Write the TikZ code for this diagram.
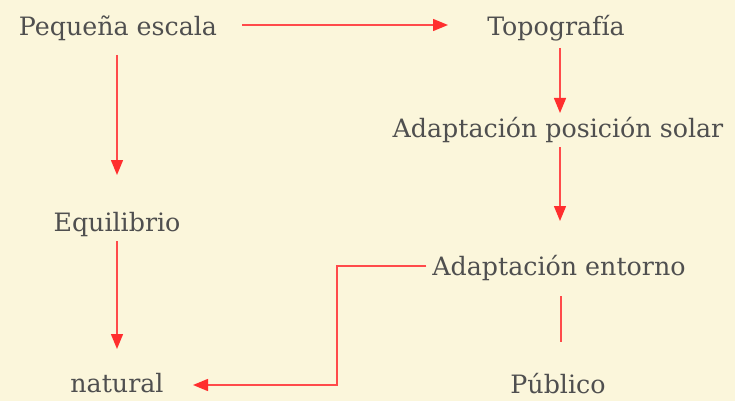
\documentclass[tikz,border=0pt]{standalone}
\usepackage{fontspec}
\setmainfont{DejaVu Serif}
\usetikzlibrary{arrows.meta}
\definecolor{bg}{HTML}{FBF6DB}
\definecolor{txt}{HTML}{4F4F4F}
\definecolor{ln}{HTML}{FF4A4A}
\definecolor{hd}{HTML}{FF2E2E}
\tikzset{
  lbl/.style={anchor=base,inner sep=0pt,text=txt,font=\fontsize{25.3}{30}\selectfont},
  conn/.style={draw=ln,line width=1.4pt},
  arr/.style={conn,-{Triangle[length=15pt,width=12pt,color=hd]}},
}
\begin{document}
\begin{tikzpicture}[x=1pt,y=-1pt]
\fill[bg] (0,0) rectangle (735,401);
\useasboundingbox (0,0) rectangle (735,401);
\node[lbl] (pe) at (118,36) {Pequeña escala};
\node[lbl] (topo) at (556,36) {Topografía};
\node[lbl] (aps) at (558,137) {Adaptación posición solar};
\node[lbl] (ae) at (559,275) {Adaptación entorno};
\node[lbl] (eq) at (117,231) {Equilibrio};
\node[lbl] (nat) at (117,392) {natural};
\node[lbl] (pub) at (558,393) {Público};
% helper coordinates for the connector lines
\coordinate (r1) at (0,25);
\coordinate (r5) at (0,385);
\coordinate (ax) at (560,0);
\coordinate (lx) at (117,0);
\coordinate (k) at (337,0);
\draw[arr,shorten <=124pt,shorten >=108pt] (pe |- r1) -- (topo |- r1);
\draw[arr,shorten <=19pt,shorten >=56pt] (pe.base -| lx) -- (eq.base -| lx);
\draw[arr,shorten <=10pt,shorten >=43pt] (eq.base -| lx) -- (nat.base -| lx);
\draw[arr,shorten <=12pt,shorten >=24pt] (topo.base -| ax) -- (aps.base -| ax);
\draw[arr,shorten <=10pt,shorten >=54pt] (aps.base -| ax) -- (ae.base -| ax);
\draw[conn,shorten <=21pt,shorten >=51pt] ([xshift=2pt]ae.base) -- ([xshift=3pt]pub.base);
\draw[arr,shorten <=6pt,shorten >=76pt] (ae.west |- 0,266) -- (k |- 0,266) |- (nat |- r5);
\end{tikzpicture}
\end{document}
